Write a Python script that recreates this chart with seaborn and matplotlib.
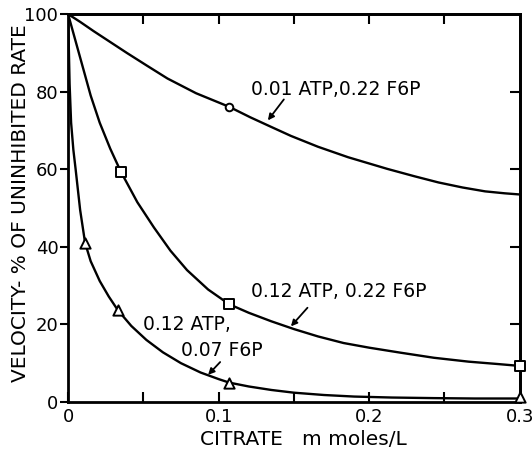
import matplotlib
matplotlib.use('Agg')
import matplotlib.pyplot as plt
import seaborn as sns
import pandas as pd

# Curves (citrate mM, velocity %)
curve1_x = [0, 0.008, 0.017, 0.028, 0.039, 0.052, 0.066, 0.085, 0.107, 0.121, 0.135, 0.148,
            0.166, 0.186, 0.212, 0.23, 0.246, 0.262, 0.277, 0.29, 0.3]
curve1_y = [100, 98, 95.6, 92.8, 90, 86.8, 83.4, 79.6, 76.1, 73.4, 70.9, 68.6,
            65.8, 63.1, 60.1, 58.2, 56.6, 55.3, 54.3, 53.8, 53.5]

curve2_x = [0, 0.005, 0.010, 0.015, 0.021, 0.028, 0.035, 0.046, 0.057, 0.068, 0.079, 0.093,
            0.107, 0.12, 0.135, 0.15, 0.166, 0.183, 0.2, 0.221, 0.243, 0.266, 0.285, 0.3]
curve2_y = [100, 93, 86, 79, 72, 65.3, 59.4, 51.5, 45, 39, 34, 29,
            25.2, 23, 20.8, 18.8, 16.9, 15.2, 14, 12.7, 11.4, 10.4, 9.8, 9.3]

curve3_x = [0, 0.001, 0.002, 0.0035, 0.005, 0.008, 0.0113, 0.015, 0.021, 0.027, 0.033,
            0.042, 0.052, 0.063, 0.075, 0.088, 0.1, 0.107, 0.12, 0.135, 0.15, 0.17,
            0.19, 0.215, 0.243, 0.27, 0.3]
curve3_y = [100, 82, 72, 65, 60, 49.5, 41, 36.3, 31.2, 27.2, 23.7,
            19.6, 16, 12.8, 10, 7.6, 5.9, 5.0, 4.0, 3.1, 2.4, 1.8,
            1.4, 1.15, 1.0, 0.9, 0.9]

# Measured points
circle_x = [0.107]
circle_y = [76]
square_x = [0.035, 0.107, 0.3]
square_y = [59.4, 25.2, 9.3]
triangle_x = [0.0113, 0.033, 0.107, 0.3]
triangle_y = [41, 23.7, 5.0, 1.4]

x_ticks = [0, 0.1, 0.2, 0.3]
x_ticklabels = ['0', '0.1', '0.2', '0.3']
y_ticks = [0, 20, 40, 60, 80, 100]

sns.set_style('ticks')
plt.rcParams['font.family'] = ['DejaVu Sans']
plt.rcParams['text.color'] = 'black'
plt.rcParams['axes.labelcolor'] = 'black'
plt.rcParams['xtick.color'] = 'black'
plt.rcParams['ytick.color'] = 'black'
plt.rcParams['axes.edgecolor'] = 'black'

fig = plt.figure(figsize=(5.32, 4.55), dpi=100)
ax = fig.add_axes([0.128, 0.1165, 0.849, 0.8525])

for cx, cy in [(curve1_x, curve1_y), (curve2_x, curve2_y), (curve3_x, curve3_y)]:
    sns.lineplot(x=cx, y=cy, ax=ax, color='black', lw=1.7, sort=False, estimator=None)

mk = dict(color='white', edgecolor='black', linewidth=1.4, zorder=5, clip_on=False, ax=ax)
sns.scatterplot(x=circle_x, y=circle_y, marker='o', s=30, **mk)
sns.scatterplot(x=square_x, y=square_y, marker='s', s=45, **mk)
sns.scatterplot(x=triangle_x, y=triangle_y, marker='^', s=55, **mk)

ax.set_xlim(0, 0.3)
ax.set_ylim(0, 100)
ax.set_xticks(x_ticks)
ax.set_xticklabels(x_ticklabels)
ax.set_xticks([0.05, 0.15, 0.25], minor=True)
ax.set_yticks(y_ticks)

for s in ax.spines.values():
    s.set_linewidth(2)
ax.tick_params(axis='x', which='both', direction='in', length=7, width=1.5, labelsize=13, pad=4)
ax.tick_params(axis='y', direction='out', length=6, width=1.5, labelsize=13, pad=1)

top = ax.secondary_xaxis('top')
top.set_xticks([0.05, 0.1, 0.15, 0.2, 0.25])
top.tick_params(direction='in', length=7, width=1.5, labeltop=False)
top.spines['top'].set_linewidth(2)
right = ax.secondary_yaxis('right')
right.set_yticks([20, 40, 60, 80])
right.tick_params(direction='in', length=7, width=1.5, labelright=False)
right.spines['right'].set_linewidth(2)

ax.set_xlabel('CITRATE   m moles/L', fontsize=14.5)
ax.xaxis.set_label_coords(0.52, -0.072)
ax.set_ylabel('VELOCITY- % OF UNINHIBITED RATE', fontsize=14.5)
ax.yaxis.set_label_coords(-0.084, 0.513)

ax.text(0.1213, 80.6, '0.01 ATP,0.22 F6P', fontsize=13.5, va='center', ha='left')
ax.text(0.1213, 28.6, '0.12 ATP, 0.22 F6P', fontsize=13.5, va='center', ha='left')
ax.text(0.05, 19.9, '0.12 ATP,', fontsize=13.5, va='center', ha='left')
ax.text(0.0747, 13.4, '0.07 F6P', fontsize=13.5, va='center', ha='left')

arrow = dict(arrowstyle='-|>', lw=1.3, color='black', mutation_scale=9, shrinkA=0, shrinkB=0)
ax.annotate('', xy=(0.1327, 72.6), xytext=(0.1433, 78.0), arrowprops=arrow)
ax.annotate('', xy=(0.148, 19.5), xytext=(0.159, 24.3), arrowprops=arrow)
ax.annotate('', xy=(0.093, 7.0), xytext=(0.101, 10.3), arrowprops=arrow)

fig.savefig('out.png', dpi=100)
